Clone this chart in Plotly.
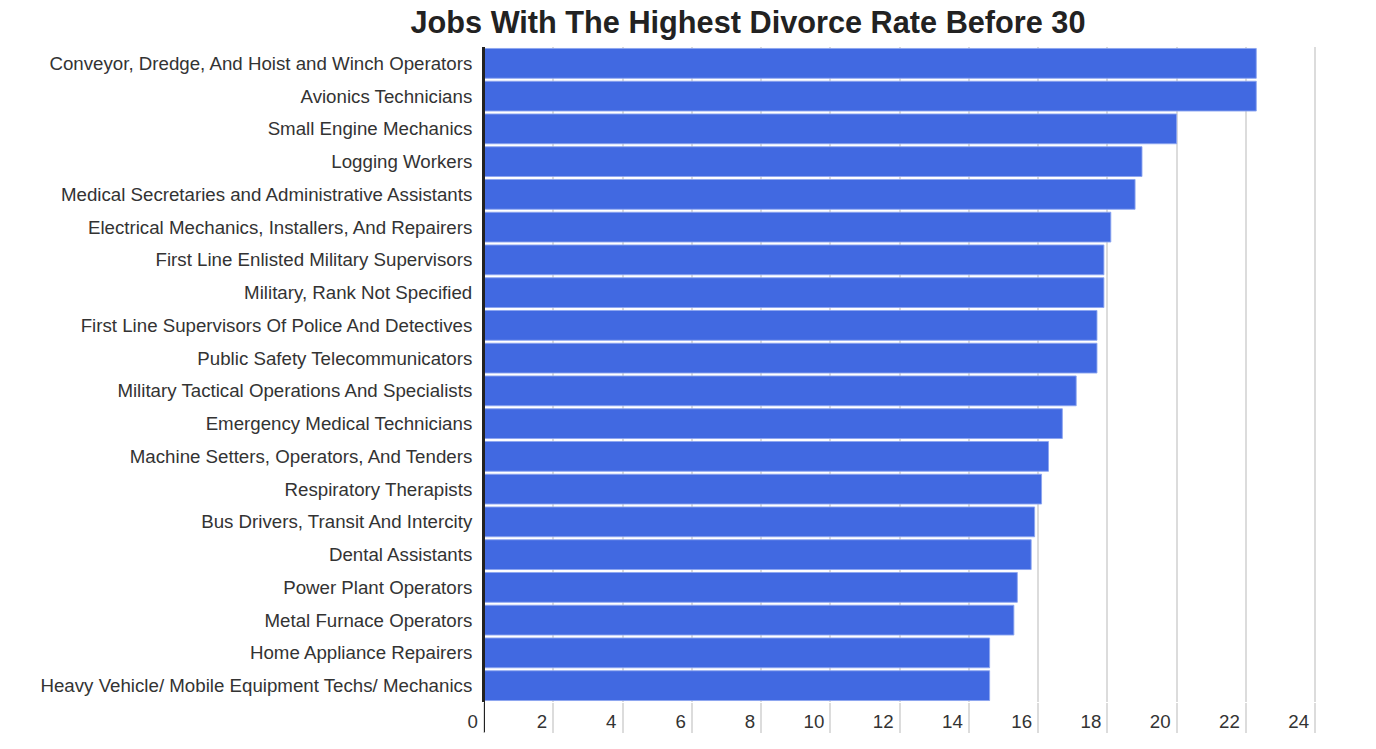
import plotly.graph_objects as go

jobs = [
    "Conveyor, Dredge, And Hoist and Winch Operators",
    "Avionics Technicians",
    "Small Engine Mechanics",
    "Logging Workers",
    "Medical Secretaries and Administrative Assistants",
    "Electrical Mechanics, Installers, And Repairers",
    "First Line Enlisted Military Supervisors",
    "Military, Rank Not Specified",
    "First Line Supervisors Of Police And Detectives",
    "Public Safety Telecommunicators",
    "Military Tactical Operations And Specialists",
    "Emergency Medical Technicians",
    "Machine Setters, Operators, And Tenders",
    "Respiratory Therapists",
    "Bus Drivers, Transit And Intercity",
    "Dental Assistants",
    "Power Plant Operators",
    "Metal Furnace Operators",
    "Home Appliance Repairers",
    "Heavy Vehicle/ Mobile Equipment Techs/ Mechanics",
]
divorce_rate = [22.3, 22.3, 20.0, 19.0, 18.8, 18.1, 17.9, 17.9, 17.7, 17.7,
                17.1, 16.7, 16.3, 16.1, 15.9, 15.8, 15.4, 15.3, 14.6, 14.6]
x_ticks = list(range(0, 25, 2))

FONT = "Liberation Sans, Arial, sans-serif"

fig = go.Figure(go.Bar(
    x=divorce_rate,
    y=jobs,
    orientation="h",
    marker=dict(color="#4169E1", line=dict(color="rgba(140,165,240,0.9)", width=1)),
))

fig.update_layout(
    width=1376, height=749,
    paper_bgcolor="white", plot_bgcolor="white",
    margin=dict(l=484, r=47, t=47, b=47),
    bargap=0.09,
    showlegend=False,
    font=dict(family=FONT, size=18.7, color="#333"),
    title=dict(text="<b>Jobs With The Highest Divorce Rate Before 30</b>",
               x=748 / 1376, xanchor="center", y=1 - 22 / 749, yanchor="middle",
               font=dict(family=FONT, size=30.7, color="#222")),
)
fig.update_xaxes(
    range=[0, 24.4],
    tickvals=x_ticks,
    automargin=False,
    showgrid=True, gridcolor="#dcdcdc", gridwidth=2,
    ticks="outside", ticklen=30, tickcolor="#dcdcdc", tickwidth=2,
    ticklabelposition="outside left",
    ticklabelstandoff=3,
    ticklabelshift=-5,
    tickfont=dict(family=FONT, size=18.7, color="#333"),
    zeroline=False, showline=False,
)
fig.update_yaxes(
    autorange="reversed",
    automargin=False,
    showline=True, linecolor="#222", linewidth=2,
    ticks="outside", ticklen=6, tickcolor="rgba(0,0,0,0)",
    tickfont=dict(family=FONT, size=18.7, color="#333"),
    showgrid=False,
)
fig.add_shape(type="line", xref="x", yref="paper", x0=0, x1=0, y0=-0.046, y1=1,
              line=dict(color="#222", width=2))

fig.write_html("out.html", config={"displayModeBar": False},
               post_script="document.body.style.margin='0px';")
